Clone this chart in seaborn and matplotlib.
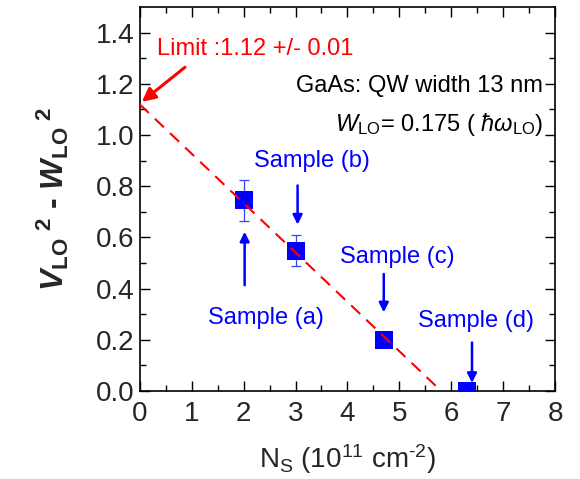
import matplotlib
matplotlib.use("Agg")
import matplotlib.pyplot as plt
import numpy as np
import pandas as pd
import seaborn as sns

# Measured samples
sample_names = ["Sample (a)", "Sample (b)", "Sample (c)", "Sample (d)"]
ns_values = [2.0, 3.0, 4.7, 6.3]            # N_S (10^11 cm^-2)
vw_values = [0.745, 0.548, 0.20, 0.0]       # V_LO^2 - W_LO^2
vw_errors = [0.08, 0.06, 0.0, 0.0]

# Linear fit: intercept is the limit value
fit_intercept = 1.12
fit_slope = -0.193
fit_x = [0.0, 5.8]

x_ticks = [0, 1, 2, 3, 4, 5, 6, 7, 8]
y_ticks = [0.0, 0.2, 0.4, 0.6, 0.8, 1.0, 1.2, 1.4]

sns.set_theme(style="ticks")
plt.rcParams["font.family"] = ["Liberation Sans", "DejaVu Sans"]
plt.rcParams["mathtext.fontset"] = "custom"
plt.rcParams["mathtext.rm"] = "Liberation Sans"
plt.rcParams["mathtext.it"] = "Liberation Sans:italic"
plt.rcParams["mathtext.bf"] = "Liberation Sans:bold"
plt.rcParams["mathtext.bfit"] = "Liberation Sans:italic:bold"

fig = plt.figure(figsize=(5.8, 4.79), dpi=100)
ax = fig.add_axes([0.241, 0.184, 0.716, 0.801])

df = pd.DataFrame({"ns": ns_values, "vw": vw_values, "err": vw_errors, "name": sample_names})
fit_df = pd.DataFrame({"ns": fit_x,
                       "vw": [fit_intercept + fit_slope * x for x in fit_x]})

ax.errorbar(df["ns"], df["vw"], yerr=df["err"], fmt="none", ecolor="#3344ff",
            elinewidth=0.9, capsize=3.8, capthick=0.9, zorder=2)
sns.scatterplot(data=df, x="ns", y="vw", marker="s", s=170, color="#0000ff",
                edgecolor="#0000ff", linewidth=0, ax=ax, zorder=3, legend=False)
sns.lineplot(data=fit_df, x="ns", y="vw", color="red", linewidth=1.5,
             dashes=False, ax=ax, zorder=4)
ax.lines[-1].set_dashes([6, 4])

ax.set_xlim(0, 8)
ax.set_ylim(0, 1.5)
ax.set_xticks(x_ticks)
ax.set_yticks(y_ticks)
ax.set_xticklabels([str(v) for v in x_ticks])
ax.set_yticklabels([f"{v:.1f}" for v in y_ticks])
ax.set_xticks(np.arange(0.5, 8, 1.0), minor=True)
ax.set_yticks(np.arange(0.1, 1.5, 0.2), minor=True)
ax.tick_params(which="both", direction="in", top=True, right=True, width=1.0,
               color="black")
ax.tick_params(which="major", length=7, labelsize=20, pad=4)
ax.tick_params(axis="x", which="major", pad=7)
ax.tick_params(which="minor", length=4)
for sp in ax.spines.values():
    sp.set_linewidth(1.2)
    sp.set_color("black")

ax.set_xlabel(r"N$_\mathrm{S}$ (10$^{11}$ cm$^{\text{-2}}$)", fontsize=20, labelpad=11)
ax.set_ylabel(r"$\mathbfit{V}_{\mathbf{LO}}{}^{\ \mathbf{2}}$ - "
              r"$\mathbfit{W}_{\mathbf{LO}}{}^{\ \mathbf{2}}$",
              fontsize=23, fontweight="bold", labelpad=18)

# Limit annotation
ax.text(0.33, 1.335, "Limit :1.12 +/- 0.01", color="red", fontsize=17,
        ha="left", va="center")
ax.annotate("", xy=(0.04, 1.13), xytext=(0.87, 1.265),
            arrowprops=dict(arrowstyle="-|>", color="red", lw=2.2,
                            mutation_scale=20, shrinkA=0, shrinkB=0))

ax.text(7.77, 1.19, "GaAs: QW width 13 nm", fontsize=17, ha="right", va="center",
        color="black")
ax.text(7.77, 1.04, r"$\mathit{W}_\mathrm{LO}$= 0.175 ( $\hbar\omega_\mathrm{LO}$)",
        fontsize=17, ha="right", va="center", color="black")

blue = "#0000ff"
arrow_kw = dict(arrowstyle="-|>", color=blue, lw=1.8, mutation_scale=14,
                shrinkA=0, shrinkB=0)
# (text x, text y, arrow x, arrow tail y, arrow head y)
label_pos = [
    (2.43, 0.285, 2.02, 0.413, 0.622),
    (3.31, 0.90, 3.04, 0.803, 0.650),
    (4.97, 0.524, 4.70, 0.457, 0.307),
    (6.47, 0.272, 6.40, 0.189, 0.031),
]
for name, (tx, ty, ax_x, t_y, h_y) in zip(sample_names, label_pos):
    ax.text(tx, ty, name, color=blue, fontsize=17, ha="center", va="center")
    ax.annotate("", xy=(ax_x, h_y), xytext=(ax_x, t_y), arrowprops=arrow_kw)

fig.savefig("out.png", dpi=100)
